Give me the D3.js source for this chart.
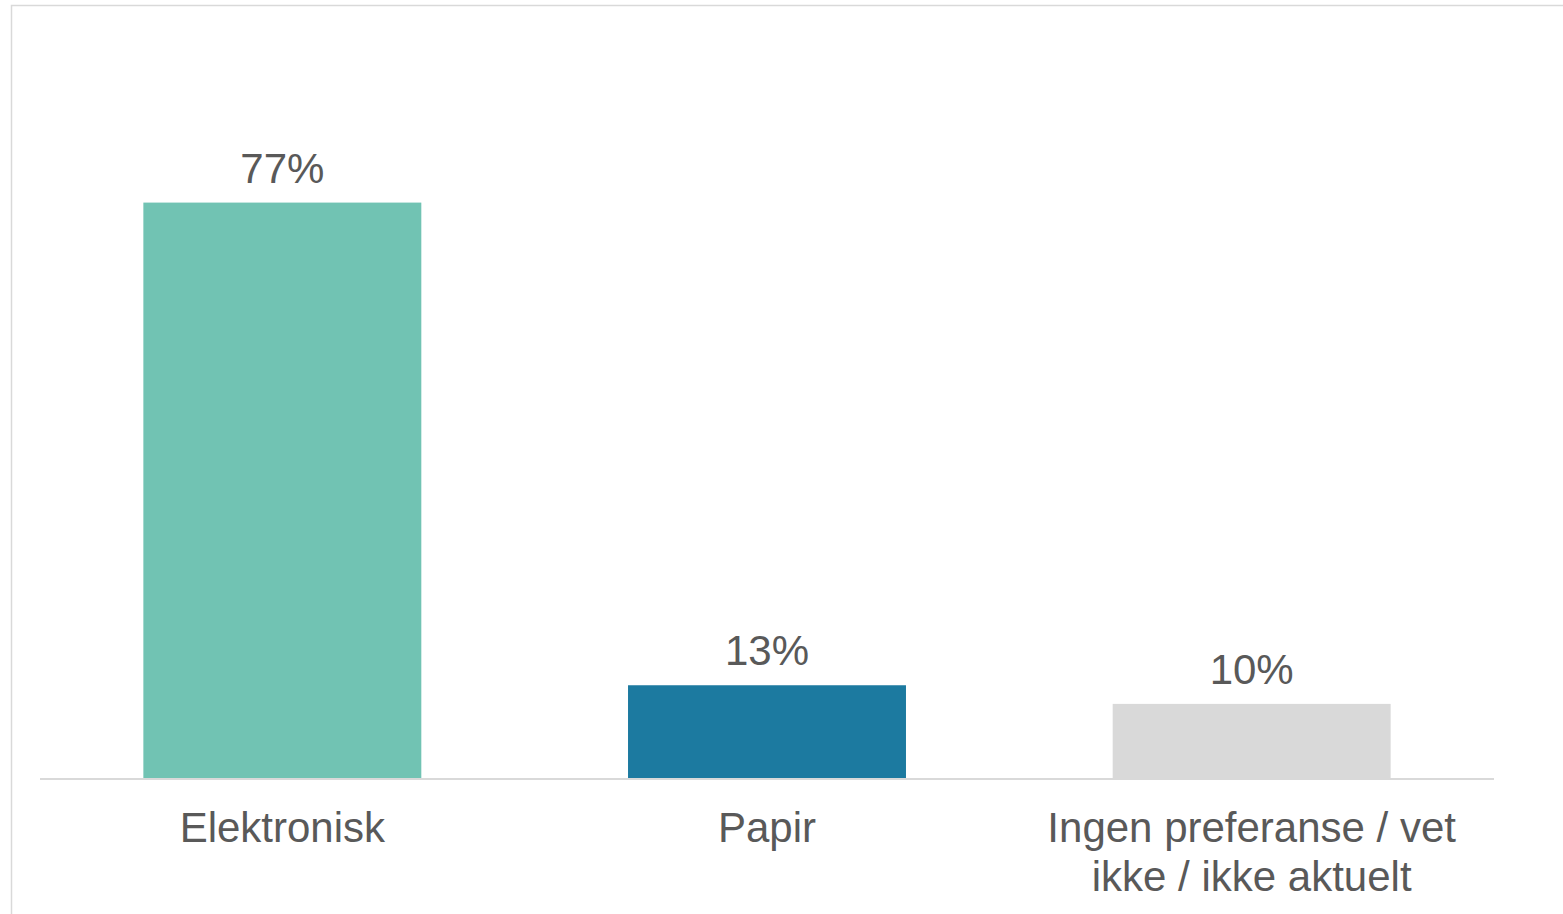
<!DOCTYPE html>
<html>
<head>
<meta charset="utf-8">
<script src="https://cdn.jsdelivr.net/npm/d3@7"></script>
<style>
  html, body { margin: 0; padding: 0; background: #ffffff; overflow: hidden; }
  svg { display: block; }
</style>
</head>
<body>
<script>
const categories = ["Elektronisk", "Papir", "Ingen preferanse / vet ikke / ikke aktuelt"];
const values = [77.2, 12.5, 10.0];
const valueLabels = ["77%", "13%", "10%"];
const colors = ["#71c3b3", "#1c7aa0", "#d9d9d9"];

const W = 1563, H = 914;
const svg = d3.select("body").append("svg").attr("width", W).attr("height", H);

// frame
svg.append("rect")
  .attr("x", 11.5).attr("y", 5.5)
  .attr("width", W + 20).attr("height", H + 20)
  .attr("fill", "none").attr("stroke", "#d9d9d9").attr("stroke-width", 1.5);

const baseY = 778.5;
const x = d3.scaleBand().domain(categories).range([40, 1494])
  .paddingInner(0.4265).paddingOuter(0.21325);
const y = d3.scaleLinear().domain([0, 80]).range([baseY, baseY - 80 * 7.46]);

const font = "'Liberation Sans', Arial, sans-serif";

const data = categories.map((c, i) => ({ c, v: values[i], label: valueLabels[i], color: colors[i] }));

svg.append("g").selectAll("rect").data(data).join("rect")
  .attr("x", d => x(d.c))
  .attr("y", d => y(d.v))
  .attr("width", x.bandwidth())
  .attr("height", d => y(0) - y(d.v))
  .attr("fill", d => d.color);

// baseline
svg.append("line")
  .attr("x1", 40).attr("x2", 1494)
  .attr("y1", baseY + 0.5).attr("y2", baseY + 0.5)
  .attr("stroke", "#d9d9d9").attr("stroke-width", 2);

// value labels
svg.append("g").selectAll("text").data(data).join("text")
  .attr("x", d => x(d.c) + x.bandwidth() / 2)
  .attr("y", d => y(d.v) - 20)
  .attr("text-anchor", "middle")
  .attr("font-family", font).attr("font-size", 42)
  .attr("fill", "#595959")
  .text(d => d.label);

// category axis labels with wrapping
const xAxis = d3.axisBottom(x).tickSize(0).tickPadding(0);
const gx = svg.append("g").attr("transform", `translate(0,${baseY})`).call(xAxis);
gx.select(".domain").remove();
gx.selectAll(".tick text")
  .attr("font-family", font).attr("font-size", 42)
  .attr("fill", "#595959")
  .attr("dy", null).attr("y", 63)
  .each(function(d) {
    const t = d3.select(this);
    const words = d.split(" ");
    const maxW = x.step() - 10;
    t.text(null);
    let line = [];
    let lineNo = 0;
    let tspan = t.append("tspan").attr("x", 0).attr("y", 63);
    words.forEach(w => {
      line.push(w);
      tspan.text(line.join(" "));
      if (tspan.node().getComputedTextLength() > maxW && line.length > 1) {
        line.pop();
        tspan.text(line.join(" "));
        line = [w];
        lineNo++;
        tspan = t.append("tspan").attr("x", 0).attr("y", 63 + lineNo * 49).text(w);
      }
    });
  });
</script>
</body>
</html>
